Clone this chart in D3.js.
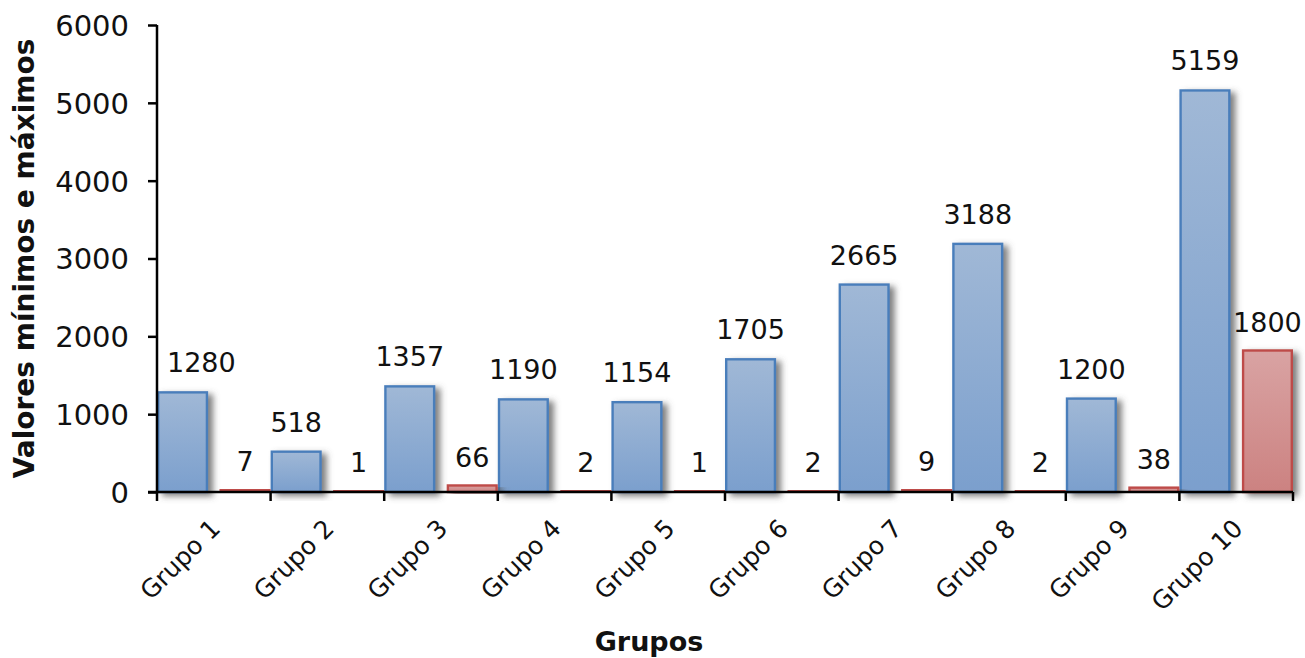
<!DOCTYPE html>
<html>
<head>
<meta charset="utf-8">
<script src="https://cdn.jsdelivr.net/npm/d3@7"></script>
<style>
  html, body { margin: 0; padding: 0; background: #fff; }
  svg { display: block; }
  text { font-family: "DejaVu Sans", "Noto Sans", sans-serif; fill: #111; }
</style>
</head>
<body>
<svg id="chart" width="1305" height="658"></svg>
<script>
// Grupos e seus valores máximos e mínimos
const grupos = ["Grupo 1", "Grupo 2", "Grupo 3", "Grupo 4", "Grupo 5",
                "Grupo 6", "Grupo 7", "Grupo 8", "Grupo 9", "Grupo 10"];
const maximos = [1280, 518, 1357, 1190, 1154, 1705, 2665, 3188, 1200, 5159];
const minimos = [7, 1, 66, 2, 1, 2, 9, 2, 38, 1800];
const yTicks = [0, 1000, 2000, 3000, 4000, 5000, 6000];

const svg = d3.select("#chart");
const margin = { left: 157, right: 12, top: 25, bottom: 166 };
const W = 1305, H = 658;
const x0 = margin.left, x1 = W - margin.right;
const yTop = margin.top, yBot = H - margin.bottom;

const x = d3.scaleBand().domain(grupos).range([x0, x1]).paddingInner(0).paddingOuter(0);
const y = d3.scaleLinear().domain([0, 6000]).range([yBot, yTop]);

const bw = x.bandwidth() * 0.45;          // bar width
const redOffset = x.bandwidth() - bw;     // second bar sits at the end of the band

const defs = svg.append("defs");
const gBlue = defs.append("linearGradient").attr("id", "gBlue")
  .attr("x1", 0).attr("y1", 0).attr("x2", 0).attr("y2", 1);
gBlue.append("stop").attr("offset", "0%").attr("stop-color", "#a0b8d6");
gBlue.append("stop").attr("offset", "100%").attr("stop-color", "#7b9fcd");
const gRed = defs.append("linearGradient").attr("id", "gRed")
  .attr("x1", 0).attr("y1", 0).attr("x2", 0).attr("y2", 1);
gRed.append("stop").attr("offset", "0%").attr("stop-color", "#d9a3a3");
gRed.append("stop").attr("offset", "100%").attr("stop-color", "#cc8281");

const shadow = defs.append("filter").attr("id", "shadow")
  .attr("x", "-20%").attr("y", "-20%").attr("width", "160%").attr("height", "140%");
shadow.append("feGaussianBlur").attr("in", "SourceAlpha").attr("stdDeviation", 3).attr("result", "b");
shadow.append("feOffset").attr("in", "b").attr("dx", 5).attr("dy", 3).attr("result", "o");
shadow.append("feFlood").attr("flood-color", "#555").attr("flood-opacity", 0.75).attr("result", "c");
shadow.append("feComposite").attr("in", "c").attr("in2", "o").attr("operator", "in").attr("result", "s");
const m = shadow.append("feMerge");
m.append("feMergeNode").attr("in", "s");
m.append("feMergeNode").attr("in", "SourceGraphic");

const plot = svg.append("g");

// Máximos (azul)
plot.selectAll("rect.max").data(maximos).join("rect")
  .attr("class", "max")
  .attr("x", (d, i) => x(grupos[i]) + 1.2)
  .attr("y", d => y(d))
  .attr("width", bw - 2.4)
  .attr("height", d => y(0) - y(d))
  .attr("fill", "url(#gBlue)")
  .attr("stroke", "#4a7ebb").attr("stroke-width", 2.4)
  .attr("filter", "url(#shadow)");

// Mínimos (vermelho)
plot.selectAll("rect.min").data(minimos).join("rect")
  .attr("class", "min")
  .attr("x", (d, i) => x(grupos[i]) + redOffset + 1.2)
  .attr("y", d => y(d) - 1.4)
  .attr("width", bw - 2.4)
  .attr("height", d => y(0) - y(d) + 1.4)
  .attr("fill", "url(#gRed)")
  .attr("stroke", "#be4b48").attr("stroke-width", 2.4)
  .attr("filter", "url(#shadow)");

// Rótulos de valor
const labelSize = 27;
function addLabels(vals, offset, cls) {
  plot.selectAll("text." + cls).data(vals).join("text")
    .attr("class", cls)
    .attr("x", (d, i) => x(grupos[i]) + offset + bw / 2)
    .attr("y", d => y(d) - 20)
    .attr("text-anchor", "middle")
    .attr("font-size", labelSize)
    .text(d => d)
    .each(function () {
      // keep labels clear of the vertical axis
      const bb = this.getBBox();
      if (bb.x < x0 + 10) d3.select(this).attr("x", +d3.select(this).attr("x") + (x0 + 10 - bb.x));
    });
}
addLabels(maximos, 0, "lmax");
addLabels(minimos, redOffset, "lmin");

// Eixo Y
const yAxis = svg.append("g").attr("transform", `translate(${x0},0)`)
  .call(d3.axisLeft(y).tickValues(yTicks).tickFormat(d3.format("d"))
    .tickSize(9).tickPadding(19).tickSizeOuter(0));
yAxis.select(".domain").attr("stroke", "#000").attr("stroke-width", 2.5)
  .attr("d", `M0,${yTop}V${yBot}`);
yAxis.selectAll(".tick line").attr("stroke", "#000").attr("stroke-width", 2.5);
yAxis.selectAll(".tick text").attr("font-size", 29).attr("fill", "#111")
  .attr("font-family", '"DejaVu Sans", sans-serif').attr("dy", "0.36em");

// Eixo X (marcas nas divisões entre grupos)
const xAxis = svg.append("g").attr("transform", `translate(0,${yBot})`);
xAxis.append("line").attr("x1", x0 - 9).attr("x2", x1).attr("stroke", "#000").attr("stroke-width", 2.5);
const edges = grupos.map(g => x(g)).concat([x1]);
xAxis.selectAll("line.tk").data(edges).join("line").attr("class", "tk")
  .attr("x1", d => d).attr("x2", d => d).attr("y1", 0).attr("y2", 9)
  .attr("stroke", "#000").attr("stroke-width", 2.5);
xAxis.selectAll("text.cat").data(grupos).join("text").attr("class", "cat")
  .attr("transform", d => `translate(${x(d) + x.bandwidth() / 2 + 8},${38}) rotate(-45)`)
  .attr("text-anchor", "end")
  .attr("font-size", 25)
  .text(d => d);

// Títulos dos eixos
svg.append("text")
  .attr("transform", `translate(34,${(yTop + yBot) / 2}) rotate(-90)`)
  .attr("text-anchor", "middle")
  .attr("font-family", '"Liberation Sans", Arial, sans-serif')
  .attr("font-weight", "bold")
  .attr("font-size", 28)
  .text("Valores mínimos e máximos");

svg.append("text")
  .attr("x", 649).attr("y", 651)
  .attr("text-anchor", "middle")
  .attr("font-weight", "bold")
  .attr("font-size", 27)
  .text("Grupos");
</script>
</body>
</html>
